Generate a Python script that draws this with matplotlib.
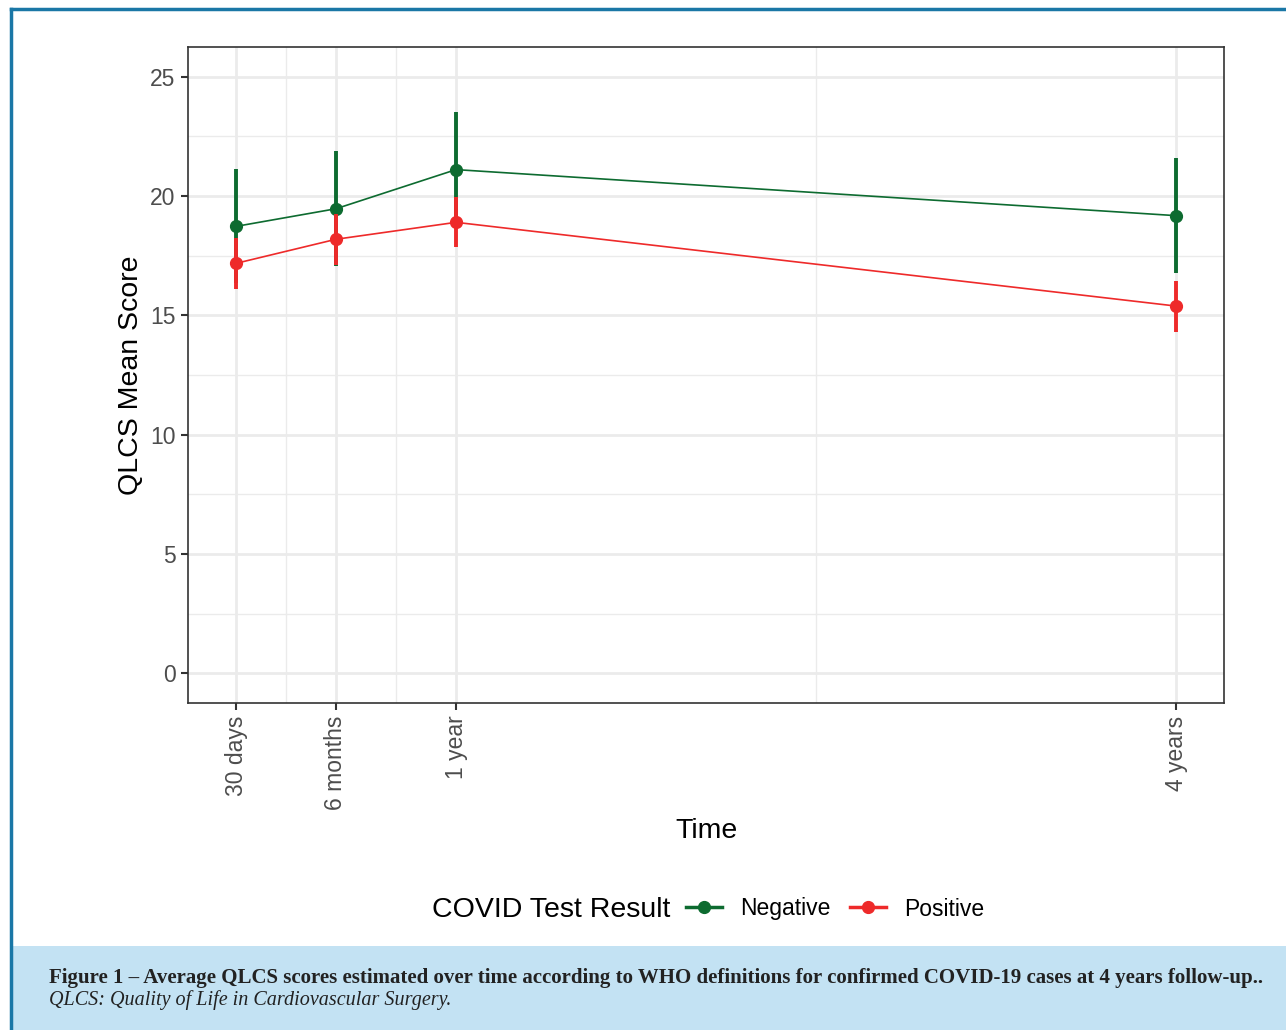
import numpy as np
import matplotlib
matplotlib.use("Agg")
import matplotlib.pyplot as plt
from matplotlib.lines import Line2D
from matplotlib.patches import Rectangle

# ===== DATOS =====
time_labels = ["30 days", "6 months", "1 year", "4 years"]
time_months = [1, 6, 12, 48]
minor_months = [3.5, 9, 30]

neg_mean = [18.73, 19.47, 21.11, 19.18]
neg_low = [16.37, 17.07, 18.70, 16.79]
neg_high = [21.14, 21.88, 23.51, 21.59]

pos_mean = [17.18, 18.19, 18.90, 15.39]
pos_low = [16.12, 17.11, 17.86, 14.31]
pos_high = [18.25, 19.23, 19.96, 16.44]

y_ticks = [0, 5, 10, 15, 20, 25]
y_minor = [2.5, 7.5, 12.5, 17.5, 22.5]

GREEN = "#0d6b30"
RED = "#ee2a2a"
GRID = "#ebebeb"
TXT = "#4d4d4d"

plt.rcParams["font.family"] = ["Liberation Sans", "DejaVu Sans"]

W, H = 1286, 1030
fig = plt.figure(figsize=(W / 100, H / 100), dpi=100)

# ===== MARCO Y CAJA DEL PIE =====
fig.patches.append(Rectangle((12 / W, 0), 1 - 12 / W, 84 / H,
                             transform=fig.transFigure, facecolor="#c3e2f3",
                             edgecolor="none", zorder=0))
fig.lines.append(Line2D([11 / W, 11 / W], [0, 1 - 9 / H],
                        transform=fig.transFigure, color="#1a77a6", lw=2.5))
fig.lines.append(Line2D([11 / W, 1], [1 - 9 / H, 1 - 9 / H],
                        transform=fig.transFigure, color="#1a77a6", lw=2.5))

# ===== EJES =====
ax = fig.add_axes([188 / W, 327 / H, 1036 / W, 656 / H])

ax.set_xlim(-1.4, 50.4)
ax.set_ylim(-1.25, 26.25)

for m in minor_months:
    ax.axvline(m, color=GRID, lw=1.0, zorder=0)
for y in y_minor:
    ax.axhline(y, color=GRID, lw=1.0, zorder=0)
for m in time_months:
    ax.axvline(m, color=GRID, lw=2.0, zorder=0)
for y in y_ticks:
    ax.axhline(y, color=GRID, lw=2.0, zorder=0)

# negativo
ax.vlines(time_months, neg_low, neg_high, color=GREEN, lw=2.8, zorder=2)
ax.plot(time_months, neg_mean, color=GREEN, lw=1.2, marker="o", ms=8.5, zorder=3)
# positivo
ax.vlines(time_months, pos_low, pos_high, color=RED, lw=2.8, zorder=4)
ax.plot(time_months, pos_mean, color=RED, lw=1.2, marker="o", ms=8.5, zorder=5)

ax.set_xticks(time_months)
ax.set_xticklabels(time_labels, rotation=90, fontsize=16.5, color=TXT)
ax.set_yticks(y_ticks)
ax.set_yticklabels([str(v) for v in y_ticks], fontsize=16.5, color=TXT)
ax.tick_params(axis="both", length=5, width=1.5, color="#333333", pad=4)

for s in ax.spines.values():
    s.set_color("#333333")
    s.set_linewidth(1.2)

ax.set_xlabel("Time", fontsize=20.5, labelpad=5.5)
ax.set_ylabel("QLCS Mean Score", fontsize=20.5, labelpad=4.5)

# ===== LEYENDA =====
fig.text(432 / W, 1 - 910 / H, "COVID Test Result", fontsize=20.5,
         ha="left", va="center")
handles = [Line2D([], [], color=GREEN, lw=2.5, marker="o", ms=8.5),
           Line2D([], [], color=RED, lw=2.5, marker="o", ms=8.5)]
fig.legend(handles, ["Negative", "Positive"],
           loc="center left", bbox_to_anchor=(686 / W, 1 - 909 / H),
           ncol=2, frameon=False, fontsize=16.5, borderpad=0,
           borderaxespad=0, handlelength=1.57, handletextpad=0.8,
           columnspacing=0.85)

# ===== PIE DE FIGURA =====
serif = ["Liberation Serif", "DejaVu Serif"]
fig.text(49 / W, 1 - 978 / H,
         "Figure 1 \u2013 Average QLCS scores estimated over time according to WHO definitions for confirmed COVID-19 cases at 4 years follow-up..",
         fontsize=15.0, fontweight="bold", family=serif,
         color="#222222", va="center", ha="left")
fig.text(49 / W, 1 - 1000 / H,
         "QLCS: Quality of Life in Cardiovascular Surgery.",
         fontsize=14.5, style="italic", family=serif,
         color="#222222", va="center", ha="left")

fig.savefig("out.png", dpi=100)
